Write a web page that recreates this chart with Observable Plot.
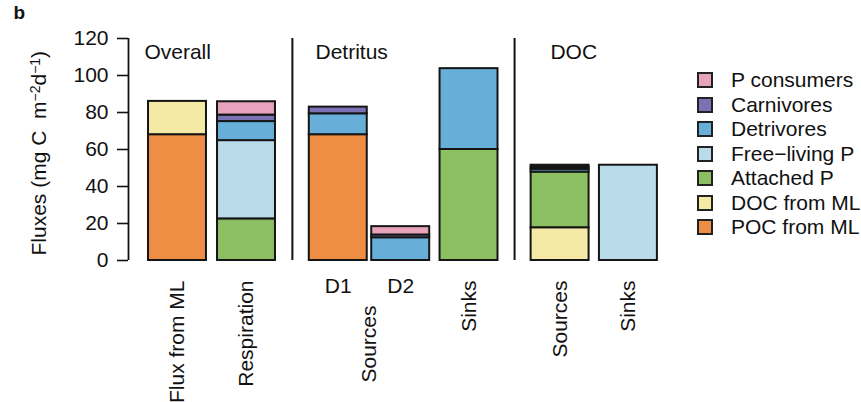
<!DOCTYPE html>
<html>
<head>
<meta charset="utf-8">
<script src="https://cdn.jsdelivr.net/npm/d3@7"></script>
<script src="https://cdn.jsdelivr.net/npm/@observablehq/plot@0.6"></script>
<style>
  body { margin: 0; background: #fff; }
  #wrap { position: relative; width: 861px; height: 402px; font-family: "Liberation Sans", Arial, Helvetica, sans-serif; }
  #wrap svg { position: absolute; left: 0; top: 0; }
  #legend { position: absolute; left: 697px; top: 68px; }
  .row { display: flex; align-items: center; height: 24.5px; font-size: 21px; color: #111; white-space: nowrap; }
  .sw { width: 12px; height: 12px; border: 2px solid #222; margin-right: 18px; box-sizing: content-box; }
</style>
</head>
<body>
<div id="wrap"><div id="legend"></div></div>
<script>
// ---- data ----
const groupNames = ["Overall", "Detritus", "DOC"];
const barLabels = ["Flux from ML", "Respiration", "D1", "D2", "Sinks", "Sources", "Sinks"];
const barGroup = [0, 0, 1, 1, 1, 2, 2];
const seriesNames = ["POC from ML", "DOC from ML", "Attached P", "Free\u2212living P", "Detrivores", "Carnivores", "P consumers"];
const seriesColors = ["#EE8E45", "#F4EAA6", "#8BBF62", "#BADBEA", "#67AFD8", "#7A72B4", "#E8A3BC"];
// values per series, one per bar (bottom of stack first)
const pocFromML   = [68, 0,    68,   0,    0,    0,    0];
const docFromML   = [18, 0,    0,    0,    0,    17.7, 0];
const attachedP   = [0,  22.5, 0,    0,    60,   30.1, 0];
const freeLivingP = [0,  42.3, 0,    0,    0,    0,    51.5];
const detrivores  = [0,  10.3, 11.3, 12.3, 43.7, 1.5,  0];
const carnivores  = [0,  3.5,  3.6,  1.5,  0,    1.1,  0];
const pConsumers  = [0,  7.2,  0,    4.5,  0,    1.1,  0];
const yTicks = [0, 20, 40, 60, 80, 100, 120];
const yTitleParts = [["Fluxes (mg C  m", false], ["\u22122", true], ["d", false], ["\u22121", true], [")", false]];

// ---- layout (code) ----
const seriesValues = [pocFromML, docFromML, attachedP, freeLivingP, detrivores, carnivores, pConsumers];
const steps = [0, 1, 1.33, 0.905, 0.99, 1.32, 0.99];
const pos = [];
steps.forEach((s, i) => pos.push((i ? pos[i - 1] : 0) + s));
const half = 0.42;
const pxY = 222 / 120;   // pixels per y unit
const pxX = 69;          // pixels per x unit
const FS = 21;

const segs = [];
barLabels.forEach((lab, b) => {
  let acc = 0;
  seriesNames.forEach((s, k) => {
    const v = seriesValues[k][b];
    if (v > 0) {
      segs.push({bar: b, series: s, x1: pos[b] - half, x2: pos[b] + half, y1: acc, y2: acc + v});
      acc += v;
    }
  });
});

// separators between groups
const seps = [];
for (let i = 1; i < barGroup.length; i++) if (barGroup[i] !== barGroup[i - 1]) seps.push((pos[i - 1] + pos[i]) / 2);

// labels
const rotLabels = [], flatLabels = [];
barLabels.forEach((l, i) => {
  if (l === "D1" || l === "D2") flatLabels.push({x: pos[i], t: l});
  else rotLabels.push({x: pos[i], t: l, y: -20 / pxY});
});
rotLabels.push({x: (pos[2] + pos[3]) / 2, t: "Sources", y: -45 / pxY});
const groupTitleX = [pos[0] - 0.48, pos[2] - 0.33, pos[5] - 0.14];
const groupTitles = groupNames.map((g, i) => ({x: groupTitleX[i], t: g}));

const font = '"Liberation Sans", Arial, Helvetica, sans-serif';
const xLeft = pos[0] - 49 / pxX;

const chart = Plot.plot({
  width: 861,
  height: 402,
  marginLeft: 128,
  marginTop: 38,
  marginBottom: 142,
  marginRight: 0,
  style: {fontFamily: font, fontSize: FS + "px", color: "#111", background: "transparent", overflow: "visible"},
  x: {type: "linear", domain: [xLeft, xLeft + 7.71], range: [128, 128 + 7.71 * pxX], axis: null},
  y: {domain: [0, 120], axis: null},
  color: {domain: seriesNames, range: seriesColors},
  marks: [
    Plot.axisY({ticks: yTicks, tickSize: 11, tickPadding: 9, fontSize: FS, strokeWidth: 1.6, label: null}),
    Plot.ruleX([xLeft], {y1: 0, y2: 120, stroke: "#111", strokeWidth: 1.8}),
    Plot.ruleX(seps, {y1: 0, y2: 120, stroke: "#111", strokeWidth: 2}),
    Plot.rect(segs, {x1: "x1", x2: "x2", y1: "y1", y2: "y2", fill: "series", stroke: "#151515", strokeWidth: 2}),
    Plot.text(groupTitles, {x: "x", y: 120, text: "t", textAnchor: "start", lineAnchor: "bottom", dy: 20, fontSize: FS, fill: "#111"}),
    Plot.text(rotLabels, {x: "x", y: "y", text: "t", rotate: -90, textAnchor: "end", fontSize: FS, fill: "#111"}),
    Plot.text(flatLabels, {x: "x", y: -26 / pxY, text: "t", fontSize: FS, fill: "#111"}),
    Plot.text([yTitleParts.map(p => p[0]).join("")], {x: xLeft - 89 / pxX, y: 58, text: d => d, rotate: -90, fontSize: FS, fill: "#111", className: "ytitle"}),
    Plot.text(["b"], {frameAnchor: "top-left", text: d => d, dx: -115, dy: -20, lineAnchor: "bottom", fontWeight: "bold", fontSize: 19, fill: "#111"})
  ]
});
document.getElementById("wrap").appendChild(chart);

// y title with real superscripts
d3.select(chart).selectAll("g.ytitle text").each(function () {
  const t = d3.select(this);
  t.text(null);
  yTitleParts.forEach(([s, sup]) => {
    const ts = t.append("tspan").text(s);
    if (sup) ts.attr("font-size", 14).attr("baseline-shift", "45%");
  });
});

// legend (top entry = top of stack)
const legend = document.getElementById("legend");
seriesNames.map((s, i) => ({s, c: seriesColors[i]})).reverse().forEach(({s, c}) => {
  const row = document.createElement("div");
  row.className = "row";
  const sw = document.createElement("div");
  sw.className = "sw";
  sw.style.background = c;
  const t = document.createElement("span");
  t.textContent = s;
  row.appendChild(sw);
  row.appendChild(t);
  legend.appendChild(row);
});
</script>
</body>
</html>
